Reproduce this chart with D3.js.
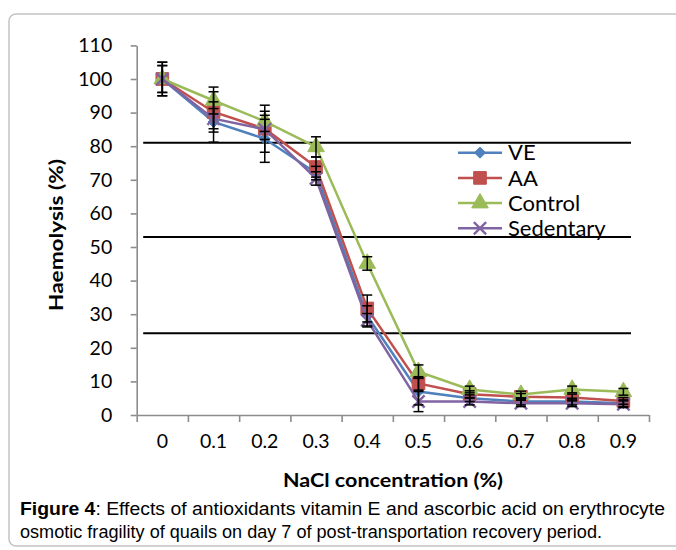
<!DOCTYPE html>
<html lang="en">
<meta charset="utf-8">
<style>
    html, body {
        margin: 0;
        padding: 0;
        background: #fff;
    }
    svg text {
        font-family: Lato, "Open Sans", sans-serif;
        fill: #000;
    }
    .caption text {
        font-family: "Liberation Sans Narrow", "Liberation Sans", Arial, sans-serif;
    }
</style>
<body>
<svg id="svg" width="676" height="550"></svg>
<script src="https://cdn.jsdelivr.net/npm/d3@7"></script>
<script>
    // data
    var cats = ["0", "0.1", "0.2", "0.3", "0.4", "0.5", "0.6", "0.7", "0.8", "0.9"];
    var ve        = [100, 87.2, 82.2, 72.0, 29.5, 7.0, 5.0, 4.0, 4.0, 3.5];
    var veErr     = [5, 6, 7, 2, 3, 4, 1, 1, 1, 1];
    var aa        = [100, 90.2, 85.2, 73.8, 31.7, 9.4, 6.2, 5.4, 5.2, 4.2];
    var aaErr     = [4, 6, 7, 3, 4, 2, 1, 1, 1, 1];
    var control   = [100, 93.6, 87.4, 79.8, 45.1, 12.9, 7.6, 6.1, 7.6, 6.9];
    var controlErr = [4, 4, 3, 3, 2, 2, 1, 1, 1, 1];
    var sedentary = [100, 88.2, 85.0, 70.4, 28.2, 4.0, 4.0, 3.5, 3.5, 3.2];
    var sedErr    = [5, 3, 3, 2, 2, 3, 1, 1, 1, 1];
    var yTicks = [0, 10, 20, 30, 40, 50, 60, 70, 80, 90, 100, 110];
    var refLines = [81, 53, 24.3];

    var diamond = d3.symbolDiamond2 || d3.symbolDiamond;
    var series = [
        {name: "VE", values: ve, err: veErr, color: "#4F81BD", symbol: diamond, size: 78},
        {name: "AA", values: aa, err: aaErr, color: "#C0504D", symbol: d3.symbolSquare, size: 160},
        {name: "Control", values: control, err: controlErr, color: "#9BBB59", symbol: d3.symbolTriangle, size: 120},
        {name: "Sedentary", values: sedentary, err: sedErr, color: "#8064A2", symbol: d3.symbolX, size: 100}
    ];

    var svg = d3.select("svg");
    var plot = {left: 136.7, right: 649, top: 45.4, bottom: 415};

    // frame around figure + caption
    svg.append("rect")
        .attr("x", 9).attr("y", 14)
        .attr("width", 720).attr("height", 532)
        .attr("rx", 7)
        .attr("fill", "none")
        .attr("stroke", "#c4c4c4")
        .attr("stroke-width", 1.5);

    var x = d3.scaleBand().domain(cats).range([plot.left, plot.right]).padding(0);
    var xEdge = d3.scaleLinear().domain([0, cats.length]).range([plot.left, plot.right]);
    var y = d3.scaleLinear().domain([0, 110]).range([plot.bottom, plot.top]);
    var cx = d => x(d) + x.bandwidth() / 2;

    function fit(sel, w) {
        sel.each(function() {
            this.setAttribute("textLength", w);
            this.setAttribute("lengthAdjust", "spacingAndGlyphs");
        });
    }

    // y axis
    var yAxis = svg.append("g")
        .attr("transform", "translate(" + plot.left + ",0)")
        .call(d3.axisLeft(y).tickValues(yTicks).tickSize(6).tickPadding(18.5).tickSizeOuter(0));
    yAxis.selectAll("text").attr("font-size", 19.5).style("font-family", "Lato");

    // x axis: ticks between categories, labels at centres
    var xAxis = svg.append("g")
        .attr("transform", "translate(0," + plot.bottom + ")")
        .call(d3.axisBottom(xEdge).tickValues(d3.range(cats.length + 1)).tickFormat("").tickSize(7).tickSizeOuter(0));
    var xLab = svg.append("g")
        .attr("transform", "translate(0," + plot.bottom + ")")
        .call(d3.axisBottom(x).tickSize(0).tickPadding(19));
    xLab.select(".domain").remove();
    xLab.selectAll("text").attr("font-size", 19.5).style("font-family", "Lato");

    svg.selectAll(".domain, .tick line").attr("stroke", "#8c8c8c").attr("stroke-width", 1.6);

    // horizontal black lines
    svg.append("g").selectAll("line").data(refLines).enter().append("line")
        .attr("x1", xEdge(0) + 6.5)
        .attr("x2", xEdge(cats.length) - 18)
        .attr("y1", d => y(d)).attr("y2", d => y(d))
        .attr("stroke", "#000").attr("stroke-width", 2);

    // series lines and markers
    var line = d3.line().x((d, i) => cx(cats[i])).y(d => y(d));
    function marker(sel, s) {
        sel.attr("d", d3.symbol().type(s.symbol).size(s.size))
            .attr("fill", s.symbol === d3.symbolX ? "none" : s.color)
            .attr("stroke", s.color)
            .attr("stroke-width", s.symbol === d3.symbolX ? 2.4 : 1);
    }
    series.forEach(function(s) {
        var g = svg.append("g");
        g.append("path")
            .attr("d", line(s.values))
            .attr("fill", "none")
            .attr("stroke", s.color)
            .attr("stroke-width", 2.5);
        g.selectAll("path.mark").data(s.values).enter().append("path")
            .attr("class", "mark")
            .attr("transform", (d, i) => "translate(" + cx(cats[i]) + "," + y(d) + ")")
            .call(marker, s);
    });

    // error bars on top
    series.forEach(function(s) {
        var g = svg.append("g").attr("stroke", "#000").attr("stroke-width", 1.5);
        s.values.forEach(function(v, i) {
            var px = cx(cats[i]), hi = y(v + s.err[i]), lo = y(v - s.err[i]);
            g.append("line").attr("x1", px).attr("x2", px).attr("y1", hi).attr("y2", lo);
            g.append("line").attr("x1", px - 5).attr("x2", px + 5).attr("y1", hi).attr("y2", hi);
            g.append("line").attr("x1", px - 5).attr("x2", px + 5).attr("y1", lo).attr("y2", lo);
        });
    });

    // legend
    var leg = svg.append("g").attr("transform", "translate(458,152.7)");
    series.forEach(function(s, i) {
        var r = leg.append("g").attr("transform", "translate(0," + (i * 25.2) + ")");
        r.append("line").attr("x1", 0).attr("x2", 44).attr("stroke", s.color).attr("stroke-width", 2.5);
        r.append("path")
            .attr("transform", "translate(22,0)")
            .call(marker, s);
        r.append("text").attr("x", 50).attr("dy", "0.35em")
            .attr("font-size", 22)
            .text(s.name);
    });

    // axis titles
    svg.append("text")
        .attr("transform", "translate(63,235) rotate(-90)")
        .attr("text-anchor", "middle")
        .attr("font-size", 19).attr("font-weight", "bold")
        .text("Haemolysis (%)")
        .call(fit, 152);

    svg.append("text")
        .attr("x", 393).attr("y", 487)
        .attr("text-anchor", "middle")
        .attr("font-size", 19).attr("font-weight", "bold")
        .text("NaCl concentration (%)")
        .call(fit, 220);

    // caption
    var cap = svg.append("g").attr("class", "caption");
    var c1 = cap.append("text").attr("x", 20).attr("y", 515).attr("font-size", 17.5);
    c1.append("tspan").attr("font-weight", "bold").text("Figure 4");
    c1.append("tspan").text(": Effects of antioxidants vitamin E and ascorbic acid on erythrocyte");
    c1.call(fit, 645);
    cap.append("text").attr("x", 20).attr("y", 538).attr("font-size", 17.5)
        .text("osmotic fragility of quails on day 7 of post-transportation recovery period.")
        .call(fit, 582);
</script>
</body>
</html>
